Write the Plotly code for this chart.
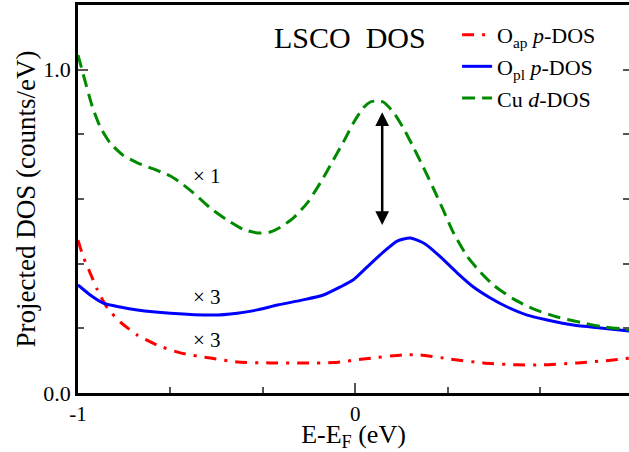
import plotly.graph_objects as go

# ---- data ----
cu_d_E = [-1.0, -0.981, -0.948, -0.920, -0.884, -0.837, -0.786, -0.728, -0.667, -0.631,
          -0.584, -0.523, -0.462, -0.404, -0.353, -0.307, -0.270, -0.224, -0.173, -0.126,
          -0.079, -0.043, -0.007, 0.029, 0.054, 0.072, 0.101, 0.137, 0.173, 0.209,
          0.245, 0.281, 0.317, 0.353, 0.404, 0.451, 0.498, 0.570, 0.642, 0.728,
          0.811, 0.884, 0.988]
cu_d_dos = [1.045, 0.985, 0.885, 0.823, 0.773, 0.735, 0.712, 0.693, 0.671, 0.651,
            0.619, 0.572, 0.535, 0.506, 0.495, 0.498, 0.513, 0.541, 0.588, 0.650,
            0.721, 0.776, 0.835, 0.882, 0.900, 0.903, 0.900, 0.869, 0.820, 0.761,
            0.699, 0.634, 0.566, 0.497, 0.422, 0.374, 0.334, 0.291, 0.260, 0.235,
            0.219, 0.206, 0.196]

o_pl_E = [-1.0, -0.956, -0.909, -0.848, -0.786, -0.667, -0.512, -0.426, -0.353, -0.281,
          -0.188, -0.115, -0.054, -0.007, 0.043, 0.101, 0.151, 0.198, 0.252, 0.307,
          0.368, 0.426, 0.487, 0.548, 0.620, 0.692, 0.786, 0.884, 0.988]
o_pl_dos = [0.334, 0.303, 0.278, 0.266, 0.257, 0.247, 0.241, 0.247, 0.257, 0.272,
            0.288, 0.303, 0.328, 0.350, 0.390, 0.436, 0.470, 0.479, 0.461, 0.421,
            0.371, 0.328, 0.294, 0.266, 0.241, 0.226, 0.210, 0.201, 0.192]

o_ap_E = [-1.0, -0.981, -0.956, -0.930, -0.894, -0.848, -0.786, -0.714, -0.631, -0.523,
          -0.426, -0.307, -0.188, -0.079, 0.029, 0.173, 0.234, 0.343, 0.462, 0.584,
          0.678, 0.801, 0.930, 0.988]
o_ap_dos = [0.473, 0.421, 0.371, 0.319, 0.263, 0.220, 0.179, 0.148, 0.124, 0.108,
            0.096, 0.093, 0.093, 0.094, 0.105, 0.118, 0.118, 0.105, 0.093, 0.087,
            0.087, 0.093, 0.102, 0.108]

series_names = ["O<sub>ap</sub> <i>p</i>-DOS", "O<sub>pl</sub> <i>p</i>-DOS", "Cu <i>d</i>-DOS"]
scale_labels = ["× 1", "× 3", "× 3"]
scale_label_E = [-0.534, -0.534, -0.534]
scale_label_y = [0.671, 0.296, 0.163]

x_major = [-1, 0]
x_major_text = ["-1", "0"]
y_major = [0.0, 1.0]
y_major_text = ["0.0", "1.0"]

arrow_E = 0.097
arrow_top = 0.868
arrow_bottom = 0.515

FONT = "Liberation Serif, Times New Roman, serif"

fig = go.Figure()
fig.add_trace(go.Scatter(x=o_ap_E, y=o_ap_dos, mode="lines", name=series_names[0],
                         line=dict(color="#ff0000", width=3, dash="12px,8px,3px,8px", shape="spline", smoothing=0.6)))
fig.add_trace(go.Scatter(x=o_pl_E, y=o_pl_dos, mode="lines", name=series_names[1],
                         line=dict(color="#0000ff", width=3, shape="spline", smoothing=0.6)))
fig.add_trace(go.Scatter(x=cu_d_E, y=cu_d_dos, mode="lines", name=series_names[2],
                         line=dict(color="#008a00", width=3, dash="13px,7px", shape="spline", smoothing=0.6)))
# carrier for the right-hand (mirrored) tick marks
fig.add_trace(go.Scatter(x=[], y=[], yaxis="y2", showlegend=False, hoverinfo="skip"))

for t, xe, yv in zip(scale_labels, scale_label_E, scale_label_y):
    fig.add_annotation(x=xe, y=yv, text=t, showarrow=False,
                       font=dict(family=FONT, size=21, color="black"))

fig.add_annotation(x=-0.02, y=1.098, text="LSCO  DOS", showarrow=False,
                   font=dict(family=FONT, size=30, color="black"))

fig.add_annotation(x=arrow_E, y=arrow_top, ax=arrow_E, ay=arrow_bottom,
                   xref="x", yref="y", axref="x", ayref="y", text="",
                   showarrow=True, arrowhead=2, arrowside="end+start",
                   arrowsize=1.1, arrowwidth=2.5, arrowcolor="black")

fig.update_layout(
    width=629, height=452,
    margin=dict(l=78, r=0, t=5, b=59),
    paper_bgcolor="white", plot_bgcolor="white",
    font=dict(family=FONT, color="black"),
    showlegend=True,
    legend=dict(x=0.688, y=0.977, xanchor="left", yanchor="top",
                bgcolor="rgba(0,0,0,0)", font=dict(family=FONT, size=22, color="black"),
                tracegroupgap=0, itemwidth=30),
    xaxis=dict(range=[-1, 0.987], showgrid=False, zeroline=False, automargin=False,
               showline=True, linewidth=2.5, linecolor="black", mirror=True,
               tickmode="array", tickvals=x_major, ticktext=x_major_text,
               ticks="inside", ticklen=10, tickwidth=1.5, tickcolor="#555",
               tickfont=dict(family=FONT, size=21, color="black"),
               minor=dict(tickmode="linear", tick0=-1, dtick=1/3, ticks="inside",
                          ticklen=6, tickwidth=1.5, tickcolor="#555"),
               title=dict(text="E-E<sub>F</sub> (eV)", font=dict(family=FONT, size=26, color="black"), standoff=0)),
    yaxis=dict(range=[0, 1.2], showgrid=False, zeroline=False, automargin=False,
               showline=True, linewidth=2.5, linecolor="black",
               tickmode="array", tickvals=y_major, ticktext=y_major_text,
               ticks="inside", ticklen=10, tickwidth=1.5, tickcolor="#555",
               tickfont=dict(family=FONT, size=22, color="black"),
               minor=dict(tickmode="linear", tick0=0, dtick=0.2, ticks="inside",
                          ticklen=6, tickwidth=1.5, tickcolor="#555"),
               title=dict(text="Projected DOS (counts/eV)", font=dict(family=FONT, size=27, color="black"), standoff=0)),
    yaxis2=dict(range=[0, 1.2], overlaying="y", side="right", showgrid=False, zeroline=False,
                automargin=False,
                showline=False, showticklabels=False, tickmode="linear", tick0=0, dtick=0.2,
                ticks="inside", ticklen=6, tickwidth=1.5, tickcolor="#555"),
)

fig.write_html("out.html", config={"displayModeBar": False},
               post_script="document.body.style.margin='0';document.body.style.overflow='hidden';")
